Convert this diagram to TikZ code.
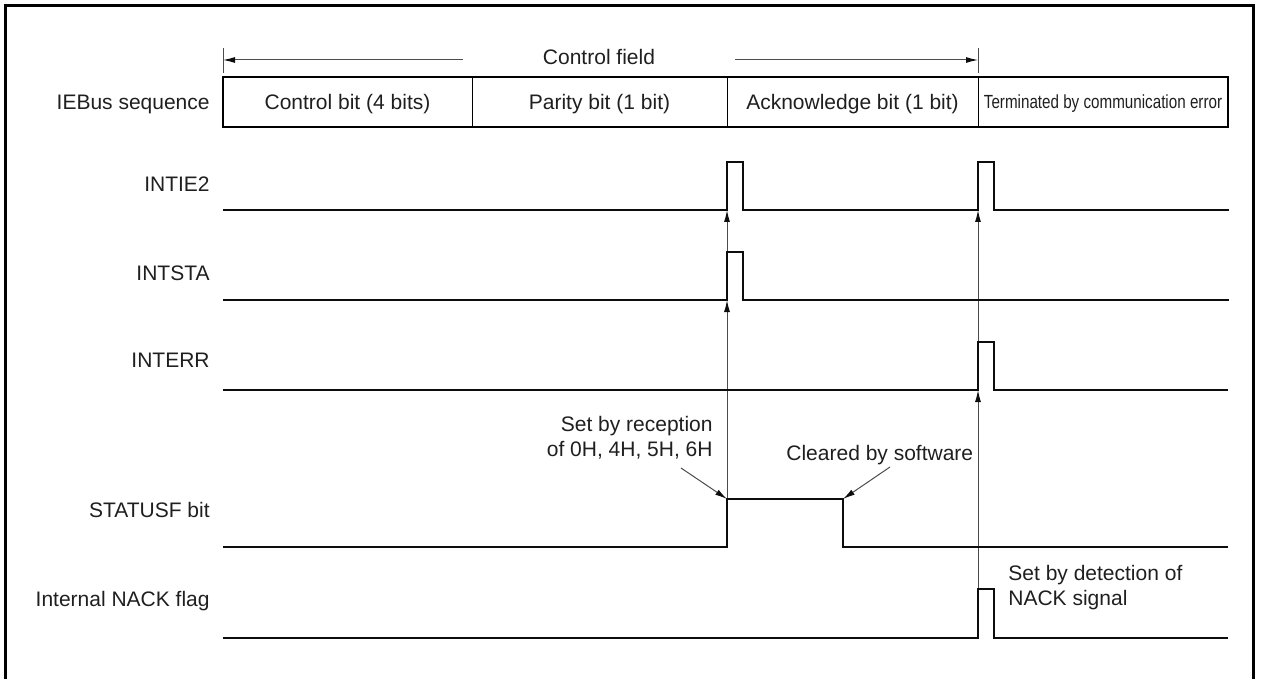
\documentclass[tikz,border=0pt]{standalone}
\usepackage{fontspec}
\setmainfont{Liberation Sans}
\newfontfamily\narrowfont[FakeStretch=0.8]{Liberation Sans}
\usetikzlibrary{arrows.meta,calc}
\definecolor{WaveClr}{gray}{0.05}
\definecolor{GuideClr}{gray}{0.3}
\definecolor{TextClr}{gray}{0.12}

\tikzset{
  wave/.style={line width=1.4pt,color=WaveClr,line join=miter},
  guide/.style={line width=0.5pt,color=GuideClr,-{Latex[length=6pt,width=3pt,color=WaveClr]}},
  tick/.style={line width=0.5pt,color=GuideClr},
  sig/.style={anchor=base east,inner sep=0pt,text=TextClr},
  cell/.style={anchor=base,inner sep=0pt,text=TextClr},
  note/.style={inner sep=0pt,text=TextClr}
}

\begin{document}
\begin{tikzpicture}[x=0.5pt,y=-0.5pt,font=\fontsize{10.5}{12.5}\selectfont]
\useasboundingbox (0,0) rectangle (1262,679);

% frame
\draw[line width=1.5pt] (5,679) -- (5,6) -- (1253,6) -- (1253,679);

% control field
\coordinate (fL) at (223,60);
\coordinate (fR) at (978,60);
\coordinate (fa) at (463,60);
\coordinate (fb) at (735,60);
\draw[tick] (223,48) -- (223,73) (978,48) -- (978,73);
\node[cell] (field) at (599,65) {Control field};
\draw[guide] (fa) -- (fL);
\draw[guide] (fb) -- (fR);

% sequence row
\draw[line width=1.2pt] (223,77) rectangle (1228,127);
\foreach \x in {472,727,978}
  \draw[line width=0.5pt] (\x,77) -- (\x,127);
\node[sig] (seq) at (210,110) {IEBus sequence};
\node[cell] (ctl) at (347.5,110) {Control bit (4 bits)};
\node[cell] (par) at (599.5,110) {Parity bit (1 bit)};
\node[cell] (ack) at (852.5,110) {Acknowledge bit (1 bit)};
\node[cell] (err) at (1103,109) {\narrowfont\fontsize{9.5}{11}\selectfont Terminated by communication error};

% signal names
\node[sig] (nIE) at (210,191.5) {INTIE2};
\node[sig] (nSTA) at (210,280.5) {INTSTA};
\node[sig] (nERR) at (210,367.5) {INTERR};
\node[sig] (nSF) at (210,517.5) {STATUSF bit};
\node[sig] (nNK) at (210,606.5) {Internal NACK flag};

% guide arrows
\coordinate (sfA) at (727,499);
\coordinate (staA) at (727,300);
\coordinate (ieA) at (727,210);
\coordinate (nkB) at (978,589);
\coordinate (errB) at (978,390);
\coordinate (ieB) at (978,210);
\draw[guide] (sfA) -- (staA);
\draw[guide] (staA) -- (ieA);
\draw[guide] (nkB) -- (errB);
\draw[guide] (errB) -- (ieB);

% waveforms
\draw[wave] (223,210) -- (727,210) -- ++(0,-48) -- ++(16,0) -- ++(0,48)
  -- (978,210) -- ++(0,-48) -- ++(16,0) -- ++(0,48) -- (1229,210);
\draw[wave] (223,300) -- (727,300) -- ++(0,-48) -- ++(16,0) -- ++(0,48) -- (1229,300);
\draw[wave] (223,390) -- (978,390) -- ++(0,-48) -- ++(16,0) -- ++(0,48) -- (1228,390);
\draw[wave] (223,547) -- (727,547) -- (727,499) -- (843,499) -- (843,547) -- (1228,547);
\draw[wave] (223,638) -- (978,638) -- ++(0,-49) -- ++(16,0) -- ++(0,49) -- (1228,638);

% notes
\node[note,anchor=base east,align=right] (setR) at (713,456) {Set by reception\\of 0H, 4H, 5H, 6H};
\node[note,anchor=base west] (clr) at (786,460) {Cleared by software};
\node[note,anchor=base west,align=left] (setN) at (1008,605) {Set by detection of\\NACK signal};
\coordinate (rA) at (681,468);
\coordinate (cA) at (890,467);
\coordinate (cF) at (843,499);
\draw[guide] (rA) -- (sfA);
\draw[guide] (cA) -- (cF);

\end{tikzpicture}
\end{document}
